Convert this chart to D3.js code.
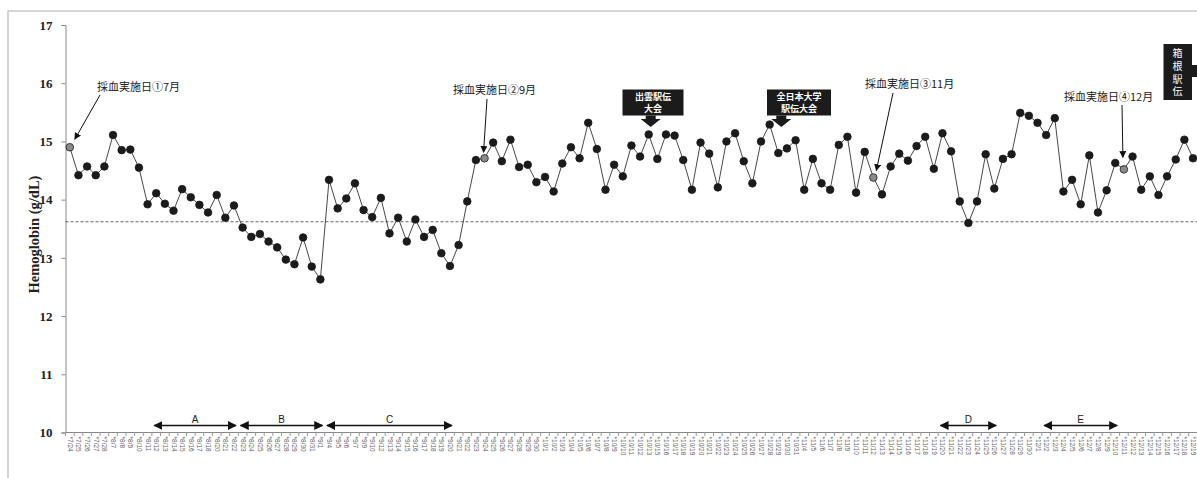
<!DOCTYPE html>
<html>
<head>
<meta charset="utf-8">
<script src="https://cdn.jsdelivr.net/npm/d3@7"></script>
<style>
  body { margin: 0; background: #fff; }
  svg { display: block; }
</style>
</head>
<body>
<div id="chart"></div>
<script>
// dates (category axis)
var dates = ['7/24', '7/25', '7/26', '7/27', '7/28',
  '8/7', '8/8', '8/9', '8/10', '8/11', '8/12', '8/13', '8/14', '8/15', '8/16', '8/17', '8/18',
  '8/20', '8/21', '8/22', '8/23', '8/24', '8/25', '8/26', '8/27', '8/28', '8/29', '8/30', '8/31',
  '9/1', '9/4', '9/5', '9/6', '9/7', '9/9', '9/10',
  '9/12', '9/13', '9/14', '9/15', '9/16', '9/17', '9/18', '9/19', '9/20', '9/21', '9/22', '9/23', '9/24',
  '9/25', '9/26', '9/27', '9/28', '9/29', '9/30',
  '10/1', '10/2', '10/3', '10/4', '10/5', '10/6', '10/7', '10/8', '10/9', '10/10', '10/11', '10/12', '10/13',
  '10/15', '10/16', '10/17', '10/18', '10/19', '10/20', '10/21', '10/22', '10/23', '10/24', '10/25', '10/26',
  '10/27', '10/28', '10/29', '10/30', '10/31',
  '11/4', '11/5', '11/6', '11/7', '11/8', '11/9', '11/10', '11/11', '11/12', '11/13', '11/14', '11/15',
  '11/16', '11/17', '11/18', '11/19', '11/20', '11/21', '11/22', '11/23', '11/24', '11/25', '11/26', '11/27',
  '11/28', '11/29', '11/30',
  '12/1', '12/2', '12/3', '12/4', '12/5', '12/6', '12/7', '12/8', '12/9', '12/10', '12/11', '12/12',
  '12/13', '12/14', '12/15', '12/16', '12/17', '12/18', '12/19']

// hemoglobin g/dL
var hb = [14.90, 14.42, 14.57, 14.42, 14.57,
  15.11, 14.85, 14.86, 14.55, 13.92, 14.11, 13.93, 13.81, 14.18, 14.04, 13.91, 13.78,
  14.08, 13.69, 13.90, 13.52, 13.36, 13.41, 13.28, 13.18, 12.97, 12.89, 13.35, 12.85,
  12.63, 14.34, 13.85, 14.02, 14.28, 13.82, 13.70,
  14.03, 13.42, 13.69, 13.28, 13.66, 13.36, 13.48, 13.08, 12.86, 13.22, 13.97, 14.68, 14.71,
  14.98, 14.66, 15.03, 14.56, 14.60, 14.30,
  14.39, 14.14, 14.62, 14.90, 14.71, 15.32, 14.87, 14.17, 14.60, 14.40, 14.93, 14.74, 15.12,
  14.70, 15.12, 15.10, 14.68, 14.17, 14.98, 14.79, 14.21, 15.00, 15.14, 14.66, 14.28,
  15.00, 15.29, 14.80, 14.88, 15.02,
  14.17, 14.70, 14.28, 14.17, 14.94, 15.08, 14.12, 14.82, 14.38, 14.09, 14.57, 14.79,
  14.67, 14.92, 15.08, 14.53, 15.14, 14.83, 13.97, 13.60, 13.97, 14.78, 14.19, 14.70,
  14.78, 15.49, 15.44,
  15.32, 15.11, 15.40, 14.14, 14.34, 13.92, 14.76, 13.78, 14.16, 14.63, 14.52, 14.74,
  14.17, 14.40, 14.08, 14.40, 14.69, 15.03, 14.71]

var sampleDays = ['7/24', '9/24', '11/12', '12/11']
var sampleLabels = ['採血実施日①7月', '採血実施日②9月', '採血実施日③11月', '採血実施日④12月']
var refLine = 13.62
var yTicks = [10, 11, 12, 13, 14, 15, 16, 17]

var periods = ['A', 'B', 'C', 'D', 'E']
var periodFrom = ['8/12', '8/23', '9/4', '11/20', '12/2']
var periodTo = ['8/22', '9/1', '9/20', '11/26', '12/10']

var races = [['出雲駅伝', '大会'], ['全日本大学', '駅伝大会']]
var raceDays = ['10/13', '10/29']

var W = 1197
var H = 478
var svg = d3.select('#chart').append('svg').attr('width', W).attr('height', H)

// frame
svg.append('rect').attr('x', 8).attr('y', 11).attr('width', W + 10).attr('height', H + 10)
  .attr('fill', 'none').attr('stroke', '#c8c8c8').attr('stroke-width', 1.5)

var x = d3.scaleBand().domain(dates).range([65.5, 65.5 + 8.64 * dates.length])
var cx = function (d) { return x(d) + x.bandwidth() / 2 }
var y = d3.scaleLinear().domain([10, 17]).range([432.5, 25])

var serif = 'Liberation Serif, Times New Roman, serif'
var jp = 'Noto Sans CJK JP, sans-serif'

// y axis
var gy = svg.append('g').attr('transform', 'translate(65.5,0)')
  .call(d3.axisLeft(y).tickValues(yTicks).tickFormat(d3.format('d')).tickSize(4))
gy.select('.domain').attr('stroke', '#888')
gy.selectAll('.tick line').attr('stroke', '#888')
gy.selectAll('.tick text').attr('font-family', serif).attr('font-weight', 'bold')
  .attr('font-size', 13).attr('fill', '#222').attr('dx', -6)

svg.append('text')
  .attr('transform', 'translate(39,' + y(13.4) + ') rotate(-90)')
  .attr('text-anchor', 'middle')
  .attr('font-family', serif).attr('font-weight', 'bold').attr('font-size', 14.5).attr('fill', '#222')
  .text('Hemoglobin (g/dL)')

// x axis
var gx = svg.append('g').attr('transform', 'translate(0,432.5)')
gx.append('line').attr('x1', 65.5).attr('x2', W).attr('stroke', '#888')
dates.forEach(function (d, i) {
  gx.append('line').attr('x1', x(d)).attr('x2', x(d)).attr('y1', 0).attr('y2', 3.5).attr('stroke', '#999')
  gx.append('text')
    .attr('transform', 'translate(' + (cx(d) - 2) + ',4) rotate(90)')
    .attr('font-family', 'Liberation Sans, Arial, sans-serif').attr('font-size', 6.5).attr('fill', '#666')
    .text('*' + d)
})

// reference dashed line
svg.append('line').attr('x1', 65.5).attr('x2', W).attr('y1', y(refLine)).attr('y2', y(refLine))
  .attr('stroke', '#555').attr('stroke-width', 0.9).attr('stroke-dasharray', '3,2')

// data line and points
var line = d3.line().x(function (d, i) { return cx(dates[i]) }).y(function (d) { return y(d) })
svg.append('path').datum(hb).attr('d', line).attr('fill', 'none').attr('stroke', '#333').attr('stroke-width', 0.9)

svg.append('g').selectAll('circle').data(hb).enter().append('circle')
  .attr('cx', function (d, i) { return cx(dates[i]) })
  .attr('cy', function (d) { return y(d) })
  .attr('r', 3.8)
  .attr('fill', function (d, i) { return sampleDays.indexOf(dates[i]) >= 0 ? '#8a8a8a' : '#1b1b1b' })
  .attr('stroke', '#1b1b1b').attr('stroke-width', 0.8)

// arrow markers
var defs = svg.append('defs')
defs.append('marker').attr('id', 'head').attr('viewBox', '0 0 10 10').attr('refX', 9).attr('refY', 5)
  .attr('markerWidth', 7).attr('markerHeight', 7).attr('markerUnits', 'userSpaceOnUse').attr('orient', 'auto')
  .append('path').attr('d', 'M0,0 L10,5 L0,10 Z').attr('fill', '#111')
defs.append('marker').attr('id', 'both').attr('viewBox', '0 0 10 10').attr('refX', 9).attr('refY', 5)
  .attr('markerWidth', 9).attr('markerHeight', 9).attr('markerUnits', 'userSpaceOnUse').attr('orient', 'auto-start-reverse')
  .append('path').attr('d', 'M0,0 L10,5 L0,10 Z').attr('fill', '#111')

// sampling-day callouts: text position and arrow start
var callTxt = [[97, 91], [453, 94], [865, 88], [1064, 101]]
var callFrom = [[100, 95], [487, 99], [893, 93], [1122, 105]]
var callGap = [[5, -8], [-1, -6], [3, -7], [-1, -12]]
sampleDays.forEach(function (d, i) {
  var v = hb[dates.indexOf(d)]
  svg.append('text').attr('x', callTxt[i][0]).attr('y', callTxt[i][1])
    .attr('font-family', jp).attr('font-size', 11).attr('fill', '#222').text(sampleLabels[i])
  svg.append('line').attr('x1', callFrom[i][0]).attr('y1', callFrom[i][1])
    .attr('x2', cx(d) + callGap[i][0]).attr('y2', y(v) + callGap[i][1])
    .attr('stroke', '#111').attr('stroke-width', 1).attr('marker-end', 'url(#head)')
})

// race boxes
var boxX = [[622.5, 683.5], [767, 831]]
var boxTop = 89.5
var boxBot = 115.5
races.forEach(function (r, i) {
  var d = raceDays[i]
  var ax = cx(d) + (i === 0 ? 2 : 3)
  var mid = (boxX[i][0] + boxX[i][1]) / 2
  svg.append('rect').attr('x', boxX[i][0]).attr('y', boxTop).attr('width', boxX[i][1] - boxX[i][0]).attr('height', boxBot - boxTop)
    .attr('fill', '#1b1b1b')
  svg.append('path')
    .attr('d', 'M' + (ax - 5) + ',' + boxBot + ' V' + (boxBot + 3.5) + ' H' + (ax - 10) + ' L' + ax + ',' + (boxBot + 11.5) +
      ' L' + (ax + 10) + ',' + (boxBot + 3.5) + ' H' + (ax + 5) + ' V' + boxBot + ' Z')
    .attr('fill', '#1b1b1b')
  var t = svg.append('text').attr('text-anchor', 'middle').attr('font-family', jp).attr('font-weight', 'bold')
    .attr('font-size', 9).attr('fill', '#fff')
  r.forEach(function (s, j) {
    t.append('tspan').attr('x', mid).attr('y', boxTop + 10.5 + j * 12).text(s)
  })
})

// 箱根駅伝 (vertical box, cut at right edge)
svg.append('rect').attr('x', 1163.5).attr('y', 44).attr('width', 28.5).attr('height', 56).attr('fill', '#1b1b1b')
svg.append('rect').attr('x', 1191).attr('y', 65).attr('width', 10).attr('height', 12).attr('fill', '#1b1b1b')
var hakone = ['箱', '根', '駅', '伝']
hakone.forEach(function (t, j) {
  svg.append('text').attr('x', 1177.5).attr('y', 57 + j * 12.8).attr('text-anchor', 'middle')
    .attr('font-family', jp).attr('font-size', 10).attr('fill', '#fff').text(t)
})

// period arrows
periods.forEach(function (p, i) {
  var x1 = cx(periodFrom[i]) - 2
  var x2 = cx(periodTo[i]) + 2
  svg.append('line').attr('x1', x1).attr('x2', x2).attr('y1', 425.5).attr('y2', 425.5)
    .attr('stroke', '#111').attr('stroke-width', 1.6)
    .attr('marker-start', 'url(#both)').attr('marker-end', 'url(#both)')
  svg.append('text').attr('x', (x1 + x2) / 2).attr('y', 423).attr('text-anchor', 'middle')
    .attr('font-family', 'Liberation Sans, Arial, sans-serif').attr('font-size', 10).attr('fill', '#222').text(p)
})
</script>
</body>
</html>
